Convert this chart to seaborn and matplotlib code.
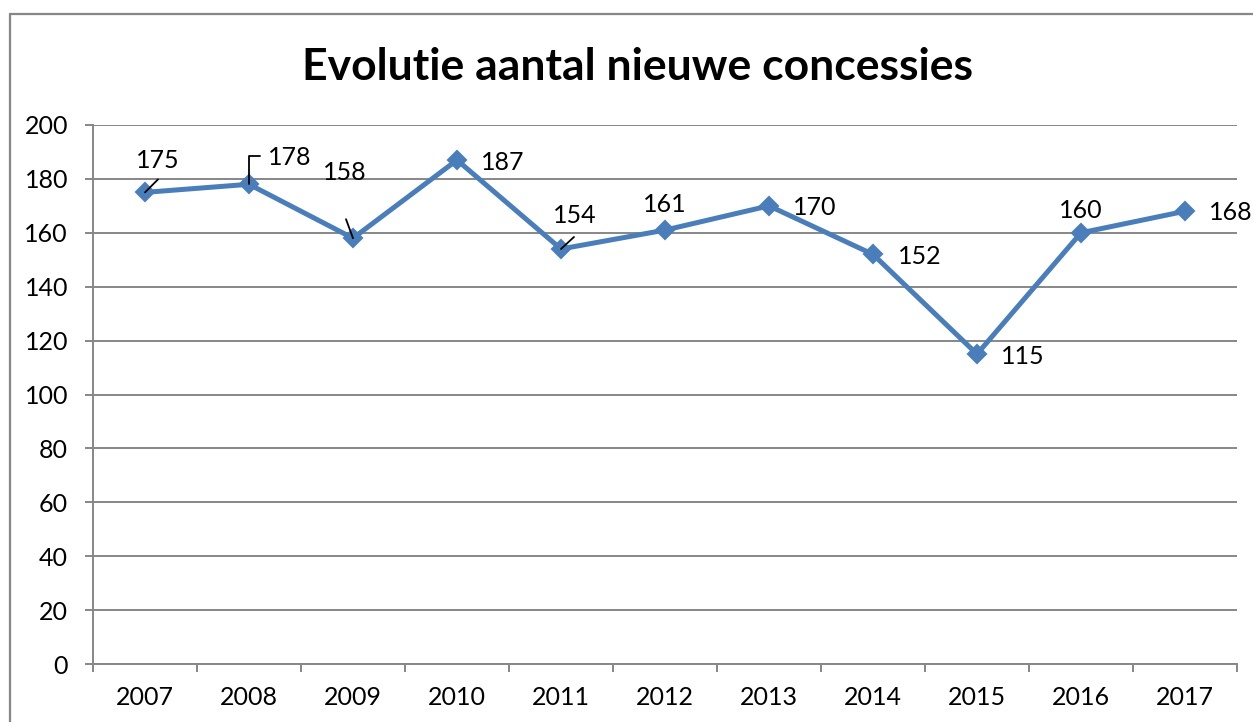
import matplotlib
matplotlib.use("Agg")
import matplotlib.pyplot as plt
from matplotlib.lines import Line2D
from matplotlib.ticker import FixedLocator, MultipleLocator
import seaborn as sns
import pandas as pd

# Data
years = ["2007", "2008", "2009", "2010", "2011", "2012",
         "2013", "2014", "2015", "2016", "2017"]
concessies = [175, 178, 158, 187, 154, 161, 170, 152, 115, 160, 168]

title = "Evolutie aantal nieuwe concessies"

# Label placement (pixel offsets from each marker) and leader segments
label_offsets = [(13, 32), (41, 27), (-8, 66), (46, -2), (14, 33), (0, 26),
                 (46, -2), (47, -2), (46, -2), (0, 22), (46, -1)]
straight_leaders = {0: (13, 13), 2: (-7, 19), 4: (13, 12)}
bracket_leaders = {1: (11, 28)}

BLUE = "#4A7EBB"
GRAY = "#878787"
FONT = "Lato"
LABEL_SIZE = 18

sns.set_theme(style="white")
plt.rcParams["font.family"] = [FONT, "DejaVu Sans"]

df = pd.DataFrame({"jaar": years, "aantal": concessies})

fig = plt.figure(figsize=(12.53, 7.22), dpi=100)
ax = fig.add_axes([93 / 1253, 1 - 664 / 722, (1237 - 93) / 1253, (664 - 125) / 722])

sns.lineplot(data=df, x="jaar", y="aantal", ax=ax, color=BLUE, linewidth=3.6,
             marker="D", markersize=9.5, markeredgecolor=BLUE, markeredgewidth=1.5,
             zorder=3)

ax.set_xlim(-0.5, len(years) - 0.5)
ax.set_ylim(0, 200)
ax.yaxis.set_major_locator(MultipleLocator(20))
ax.set_xlabel("")
ax.set_ylabel("")

# Gridlines and axes in Excel style
ax.grid(axis="y", color=GRAY, linewidth=1.4, zorder=0)
ax.grid(axis="x", visible=False)
for side in ["top", "right"]:
    ax.spines[side].set_visible(False)
for side in ["left", "bottom"]:
    ax.spines[side].set_color(GRAY)
    ax.spines[side].set_linewidth(1.4)

ax.tick_params(axis="y", which="major", left=True, length=6, width=1.4,
               color=GRAY, direction="out", pad=12, labelsize=LABEL_SIZE,
               labelcolor="black")
ax.xaxis.set_minor_locator(FixedLocator([i - 0.5 for i in range(len(years) + 1)]))
ax.tick_params(axis="x", which="minor", bottom=True, length=6, width=1.4,
               color=GRAY, direction="out")
ax.tick_params(axis="x", which="major", bottom=False, length=0, pad=16,
               labelsize=LABEL_SIZE, labelcolor="black")

# Data labels
for i, v in enumerate(concessies):
    dx, dy = label_offsets[i]
    ax.annotate(str(v), xy=(i, v), xytext=(dx, dy), textcoords="offset pixels",
                ha="center", va="center", fontsize=LABEL_SIZE, color="black",
                zorder=5)

for i, (dx, dy) in straight_leaders.items():
    ax.annotate("", xy=(i, concessies[i]), xytext=(dx, dy),
                textcoords="offset pixels",
                arrowprops=dict(arrowstyle="-", color="black", lw=1.3,
                                shrinkA=0, shrinkB=0), zorder=6)

for i, (dx, dy) in bracket_leaders.items():
    ax.annotate("", xy=(i, concessies[i]), xytext=(dx, dy),
                textcoords="offset pixels",
                arrowprops=dict(arrowstyle="-", color="black", lw=1.3,
                                connectionstyle="angle,angleA=0,angleB=90,rad=0",
                                shrinkA=0, shrinkB=0), zorder=6)

# Title
fig.text(638 / 1253, 1 - 67 / 722, title, ha="center", va="center",
         fontsize=32, fontweight="bold", color="black")

# Chart area border
fig.add_artist(Line2D([10 / 1253, 10 / 1253], [0, 1 - 14 / 722],
                      transform=fig.transFigure, color=GRAY, linewidth=1.6))
fig.add_artist(Line2D([10 / 1253, 1], [1 - 14 / 722, 1 - 14 / 722],
                      transform=fig.transFigure, color=GRAY, linewidth=1.6))

fig.savefig("out.png", dpi=100)
